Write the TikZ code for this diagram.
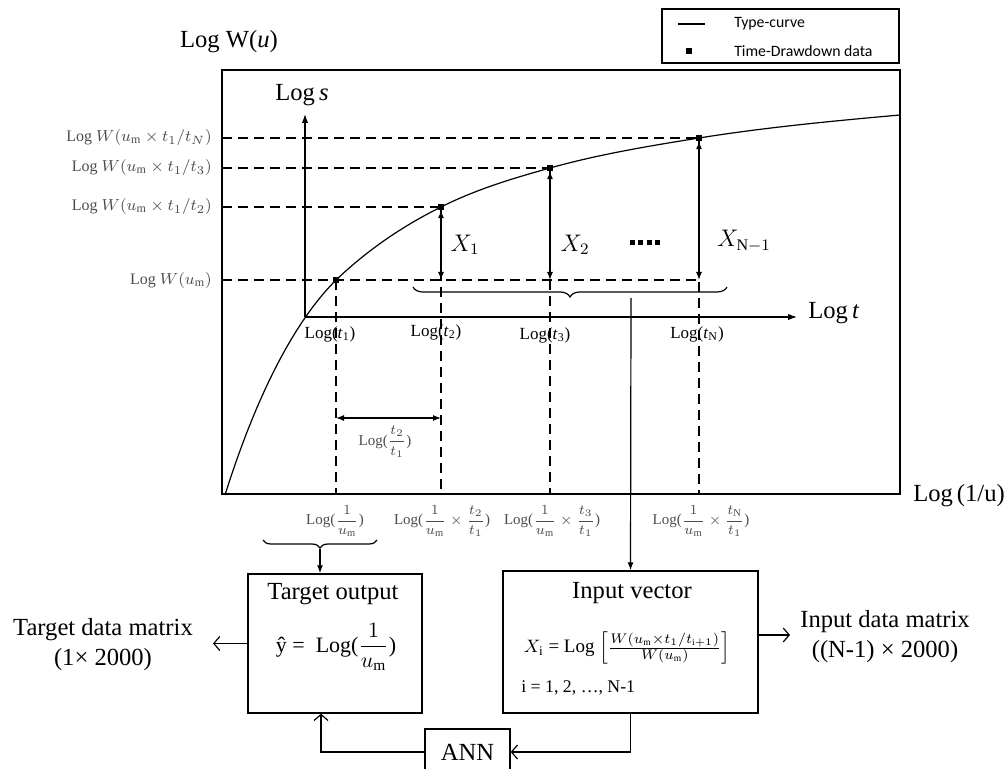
\documentclass[tikz,border=0pt]{standalone}
\usepackage{fontspec}
\usepackage{amsmath}
\setmainfont{Liberation Serif}
\newfontfamily\legendfont{Carlito}
\usetikzlibrary{arrows.meta,decorations.pathreplacing}
\definecolor{lbl}{gray}{0.3}
\newcommand{\bigf}{\fontsize{12.3}{15}\selectfont}
\newcommand{\smf}{\fontsize{8}{10}\selectfont}
\newcommand{\tif}{\fontsize{8.5}{10}\selectfont}
\newcommand{\frf}{\fontsize{7.5}{9}\selectfont}
\begin{document}
\begin{tikzpicture}[x=0.5pt,y=-0.5pt,line width=0.6pt,
  dline/.style={dash pattern=on 5pt off 3pt},
  axarrow/.style={-{Latex[length=4.5pt,width=3.2pt]}},
  dblarrow/.style={{Latex[length=4pt,width=3pt]}-{Latex[length=4pt,width=3pt]}},
  downarrow/.style={-{Latex[length=4pt,width=3pt]}},
  openarrow/.style={-{Straight Barb[length=3pt,width=7pt]}},
  datapt/.style={fill=black,inner sep=0pt,minimum size=3.2pt},
  boxnode/.style={draw,line width=0.7pt,inner sep=0pt},
  leftlbl/.style={anchor=east,text=lbl,font=\smf},
  botlbl/.style={text=lbl,font=\frf},
  tlbl/.style={font=\tif}]
\useasboundingbox (0,0) rectangle (1005,769);

% legend
\node[draw,line width=0.6pt,minimum width=118.5pt,minimum height=27pt,inner sep=0pt] (legend) at (780.5,36) {};
\coordinate (lg1) at (678,24);
\coordinate (lg2) at (705,24);
\draw (lg1) -- (lg2);
\node[datapt,minimum size=2.8pt] (lgpt) at (689,51) {};
\node[anchor=west,font=\legendfont\fontsize{7.9}{9}\selectfont] (lgt1) at (727,24) {Type-curve};
\node[anchor=west,font=\legendfont\fontsize{7.9}{9}\selectfont] (lgt2) at (727,51) {Time-Drawdown data};

% frame
\coordinate (fTL) at (222,70);
\coordinate (fBR) at (900,494);
\draw (fTL) rectangle (fBR);
\node[font=\bigf] (lwu) at (229,42) {Log W(\textit{u})};
\node[font=\bigf,anchor=west] (l1u) at (906,496) {Log\,(1/u)};

% data points
\coordinate (O) at (305,317);
\coordinate (p1) at (336,280);
\coordinate (p2) at (441,207);
\coordinate (p3) at (550,168);
\coordinate (pN) at (699,138);

% type curve
\draw (225,495) .. controls (260,384) and (299,317) .. (p1)
  .. controls (371,246.8) and (406,224.5) .. (p2)
  .. controls (477.3,188.8) and (513.7,178.2) .. (p3)
  .. controls (599.7,154.1) and (649.3,146) .. (pN)
  .. controls (766,127.3) and (833,121) .. (900,115);

% dashed horizontals and labels
\node[leftlbl] (lwN) at (219,138) {Log $W(u_\mathrm{m}\times t_1/t_N)$};
\node[leftlbl] (lw3) at (219,168) {Log $W(u_\mathrm{m}\times t_1/t_3)$};
\node[leftlbl] (lw2) at (219,207) {Log $W(u_\mathrm{m}\times t_1/t_2)$};
\node[leftlbl] (lw1) at (219,281) {Log $W(u_\mathrm{m})$};
\draw[dline] (fTL |- pN) -- (pN);
\draw[dline] (fTL |- p3) -- (p3);
\draw[dline] (fTL |- p2) -- (p2);
\draw[dline] (fTL |- p1) -- (pN |- p1);

% dashed verticals
\foreach \p in {p1,p2,p3,pN} \draw[dline] (\p) -- (\p |- fBR);

% axes
\coordinate (ytip) at (305,114);
\coordinate (xtip) at (797,317);
\draw[axarrow] (O) -- (ytip);
\draw[axarrow] (O) -- (xtip);
\node[font=\bigf] (logs) at (302,95) {Log\,\textit{s}};
\node[font=\bigf,anchor=west] (logt) at (801,313) {Log\,\textit{t}};

% X arrows
\draw[dblarrow,shorten <=1.6pt] (p2) -- (p2 |- p1);
\draw[dblarrow,shorten <=1.6pt] (p3) -- (p3 |- p1);
\draw[dblarrow,shorten <=1.6pt] (pN) -- (pN |- p1);
\node[font=\fontsize{11.5}{13}\selectfont] (x1) at (465,245) {$X_1$};
\node[font=\fontsize{11.5}{13}\selectfont] (x2) at (575,245) {$X_2$};
\node[font=\fontsize{11.5}{13}\selectfont] (xn) at (744,241) {$X_{\mathrm{N}-1}$};
\foreach \xx in {632.5,640.8,649.2,657.5} \fill (\xx-2.5,240.5) rectangle (\xx+2.5,245.5);

% points
\foreach \p in {p1,p2,p3,pN} \node[datapt] at (\p) {};

% brace and connector to input box
\draw[decorate,decoration={brace,mirror,amplitude=5pt}] (413,287) -- (727,287);
\coordinate (bt) at (631,298);

% Log(t_i) labels
\node[tlbl] (lt1) at (330,334) {Log(\textit{t}\textsubscript{1})};
\node[tlbl] (lt2) at (436,332) {Log(\textit{t}\textsubscript{2})};
\node[tlbl] (lt3) at (545,335) {Log(\textit{t}\textsubscript{3})};
\node[tlbl] (ltN) at (697,334) {Log(\textit{t}\textsubscript{N})};

% Log(t2/t1)
\coordinate (da) at (p1 |- 0,418);
\coordinate (db) at (p2 |- 0,418);
\draw[dblarrow] (da) -- (db);
\node[botlbl] (lt21) at (385,442) {Log($\dfrac{t_2}{t_1}$)};

% bottom labels
\node[botlbl] (b1) at (335,521) {Log($\dfrac{1}{u_\mathrm{m}}$)};
\node[botlbl] (b2) at (442,521) {Log($\dfrac{1}{u_\mathrm{m}}\times\dfrac{t_2}{t_1}$)};
\node[botlbl] (b3) at (552,521) {Log($\dfrac{1}{u_\mathrm{m}}\times\dfrac{t_3}{t_1}$)};
\node[botlbl] (bN) at (701,521) {Log($\dfrac{1}{u_\mathrm{m}}\times\dfrac{t_\mathrm{N}}{t_1}$)};

% boxes
\node[boxnode,minimum width=87pt,minimum height=69.5pt] (tbox) at (335,643.5) {};
\node[boxnode,minimum width=127.5pt,minimum height=71pt] (inbox) at (630.5,642) {};
\node[boxnode,minimum width=42.5pt,minimum height=23pt] (ann) at (467.5,752) {};
\node[font=\bigf] (annt) at (ann) {ANN};

\node[font=\bigf] (tt) at (333,594) {Target output};
\node[font=\fontsize{11}{13}\selectfont] (tf) at (336,647) {ŷ =\ \ Log($\dfrac{1}{u_\mathrm{m}}$)};
\node[font=\bigf] (it) at (632,593) {Input vector};
\node[font=\fontsize{9.5}{11}\selectfont] (if) at (627,648) {$X_\mathrm{i}$ = Log $\left[\frac{W(u_\mathrm{m}\times t_1/t_{\mathrm{i}+1})}{W(u_\mathrm{m})}\right]$};
\node[font=\fontsize{8.9}{11}\selectfont,anchor=west] (ii) at (514,688) {i = 1, 2, \ldots, N-1};

% small brace
\draw[decorate,decoration={brace,mirror,amplitude=4pt}] (263,540) -- (377,540);
\coordinate (sb) at (320,549);

% side texts
\node[font=\bigf,align=center] (tdm) at (103,645) {Target data matrix\\(1× 2000)};
\node[font=\bigf,align=center] (idm) at (885,637) {Input data matrix\\((N-1) × 2000)};
\coordinate (tdmA) at (213,643.5);
\coordinate (idmA) at (790,635);

% connectors
\draw[downarrow] (bt) -- (inbox.north);
\draw[downarrow] (sb) -- (sb |- tbox.north);
\draw[openarrow] (tbox.west) -- (tdmA);
\draw[openarrow] (inbox.east |- idmA) -- (idmA);
\draw[openarrow] (inbox.south) |- (ann.east);
\draw[openarrow] (ann.west) -| ([xshift=-7pt]tbox.south);
\end{tikzpicture}
\end{document}
